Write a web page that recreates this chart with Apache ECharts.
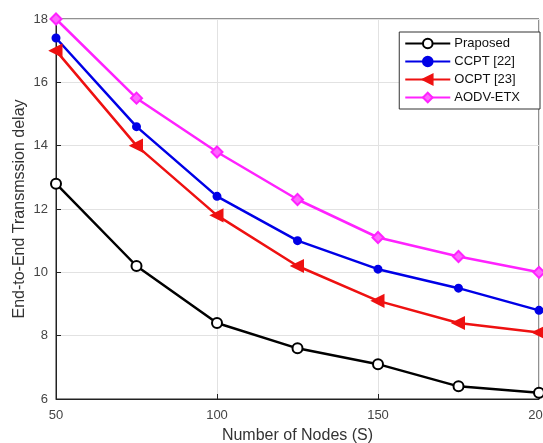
<!DOCTYPE html>
<html>
<head>
<meta charset="utf-8">
<script src="https://cdn.jsdelivr.net/npm/echarts@6/dist/echarts.min.js"></script>
<style>
  html, body { margin: 0; padding: 0; background: #fff; }
  #chart { width: 543px; height: 443px; }
</style>
</head>
<body>
<div id="chart"></div>
<script>
// data
const nodes = [50, 75, 100, 125, 150, 175, 200];
const proposed = [12.8, 10.2, 8.4, 7.6, 7.1, 6.4, 6.2];
const ccpt = [17.4, 14.6, 12.4, 11.0, 10.1, 9.5, 8.8];
const ocpt = [17.0, 14.0, 11.8, 10.2, 9.1, 8.4, 8.1];
const aodvEtx = [18.0, 15.5, 13.8, 12.3, 11.1, 10.5, 10.0];
const seriesNames = ['Praposed', 'CCPT [22]', 'OCPT [23]', 'AODV-ETX'];

const pairs = vals => nodes.map((n, i) => [n, vals[i]]);
const font = 'Liberation Sans, Arial, sans-serif';
const leftTri = 'path://M0,5 L10,0 L10,10 Z';

const chart = echarts.init(document.getElementById('chart'));

function makeSeries(name, vals, color, symbol, size, fill) {
  return {
    name,
    type: 'line',
    data: pairs(vals),
    symbol,
    symbolSize: size,
    showAllSymbol: true,
    lineStyle: { color, width: 2.5 },
    itemStyle: { color: fill, borderColor: color, borderWidth: 2 },
    emphasis: { disabled: true },
    animation: false
  };
}

chart.setOption({
  backgroundColor: '#fff',
  grid: {
    left: 56, right: 4, top: 19, bottom: 44,
    outerBoundsMode: 'none',
    show: true, borderColor: '#222', borderWidth: 1
  },
  legend: {
    data: seriesNames,
    orient: 'vertical',
    right: 3, top: 32,
    itemWidth: 45, itemHeight: 12, itemGap: 5,
    padding: [5, 20, 5, 5],
    borderColor: '#333', borderWidth: 1,
    backgroundColor: '#fff',
    textStyle: { fontFamily: font, fontSize: 13, color: '#111', padding: [0, 0, 0, -1] }
  },
  xAxis: {
    type: 'value',
    min: 50, max: 200, interval: 50,
    name: 'Number of Nodes (S)',
    nameLocation: 'middle', nameGap: 29,
    nameTextStyle: { fontFamily: font, fontSize: 16, color: '#333' },
    axisLine: { lineStyle: { color: '#222' } },
    axisTick: { inside: true, length: 5, lineStyle: { color: '#222' } },
    axisLabel: { fontFamily: font, fontSize: 13, color: '#444', margin: 10 },
    splitLine: { show: true, lineStyle: { color: '#e2e2e2' } }
  },
  yAxis: {
    type: 'value',
    min: 6, max: 18, interval: 2,
    name: 'End-to-End Transmssion delay',
    nameLocation: 'middle', nameGap: 28,
    nameMoveOverlap: false,
    nameTextStyle: { fontFamily: font, fontSize: 16, color: '#333' },
    axisLine: { show: true, lineStyle: { color: '#222' } },
    axisTick: { show: true, inside: true, length: 5, lineStyle: { color: '#222' } },
    axisLabel: { fontFamily: font, fontSize: 13, color: '#444', margin: 8 },
    splitLine: { show: true, lineStyle: { color: '#e2e2e2' } }
  },
  series: [
    makeSeries(seriesNames[0], proposed, '#000000', 'emptyCircle', 10, '#000000'),
    makeSeries(seriesNames[1], ccpt, '#0000e6', 'circle', 7, '#0000e6'),
    makeSeries(seriesNames[2], ocpt, '#ee1111', leftTri, 11, '#ee1111'),
    makeSeries(seriesNames[3], aodvEtx, '#ff22ff', 'diamond', 11, '#ff66ff')
  ]
});
</script>
</body>
</html>
